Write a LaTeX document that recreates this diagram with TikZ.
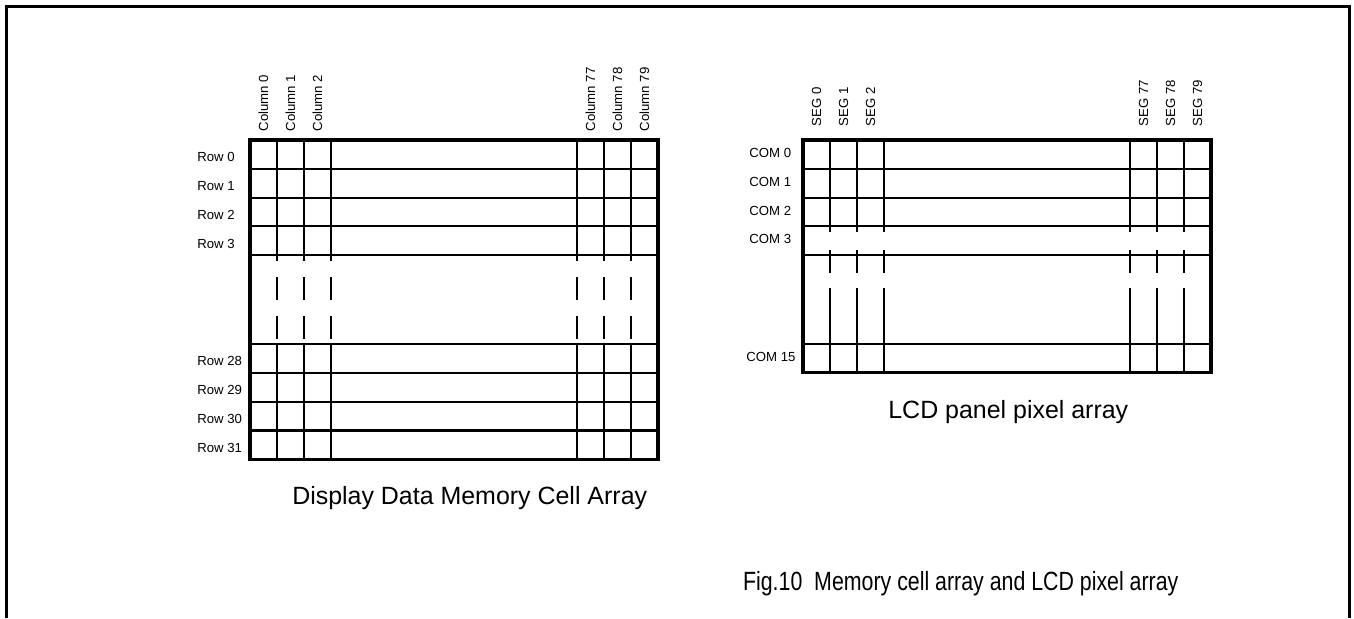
\documentclass[tikz,border=0pt]{standalone}
\usepackage{graphicx}
\usepackage{fontspec}
\setmainfont{Liberation Sans}
\tikzset{
  gridout/.style={line width=1.8pt},
  gridin/.style={line width=1.25pt},
  lbl/.style={inner sep=0pt, font=\fontsize{7.5}{9}\selectfont},
  ttl/.style={inner sep=0pt, font=\fontsize{14.2}{17}\selectfont}
}
\begin{document}
\begin{tikzpicture}[x=0.02cm,y=-0.02cm]
    \useasboundingbox (0,0) rectangle (1354,618);
    % frame, open at the bottom
    \draw [line width=1.2pt] (6.5,618) -- (6.5,6.5) -- (1349.5,6.5) -- (1349.5,618);

    % display data memory
    \foreach \y in {168.8,197.6,226.4,255.2,344,372.8,401.6,430.4}
        \draw [gridin] (250,\y) -- (658,\y);
    \foreach \x in {277,304,331,577,604,631} {
        \draw [gridin] (\x,140) -- (\x,255.2);
        \draw [gridin] (\x,344) -- (\x,459.2);
        % broken part
        \draw [gridin] (\x,255.2) -- (\x,260.7) (\x,277) -- (\x,299.5) (\x,316) -- (\x,338.5);
    }
    \draw [gridout] (250,140) rectangle (658,459.2);

    % LCD panel
    \foreach \y in {168.8,197.6,226.4,255.2,344}
        \draw [gridin] (803,\y) -- (1211,\y);
    \foreach \x in {830,857,884,1130,1157,1184} {
        \draw [gridin] (\x,140) -- (\x,231.7);
        \draw [gridin] (\x,250) -- (\x,273.3);
        \draw [gridin] (\x,287.7) -- (\x,372.8);
    }
    \draw [gridout] (803,140) rectangle (1211,372.8);

    % column and row labels
    \foreach \x/\n in {263.5/0,290.5/1,317.5/2,590.5/77,617.5/78,644.5/79}
        \node [lbl, rotate=90, anchor=west] (col\n) at (\x,131.7) {Column \n};
    \foreach \y/\n in {154.4/0,183.2/1,212/2,240.8/3,358.4/28,387.2/29,416/30,444.8/31}
        \node [lbl, anchor=west] (row\n) at (197,\y+3) {Row \n};

    % SEG and COM labels
    \foreach \x/\n in {816.5/0,843.5/1,870.5/2,1143.5/77,1170.5/78,1197.5/79}
        \node [lbl, rotate=90, anchor=west] (seg\n) at (\x,126.7) {SEG \n};
    \foreach \y/\n in {154.4/0,183.2/1,212/2,240.8/3}
        \node [lbl, anchor=west] (com\n) at (749,\y-1.5) {COM \n};
    \node [lbl, anchor=west] (com15) at (746,356.9) {COM 15};

    % captions
    \node [ttl, anchor=base] (memcap) at (469.7,504.3) {Display Data Memory Cell Array};
    \node [ttl, anchor=base] (lcdcap) at (1008.3,418.3) {LCD panel pixel array};
    \node [ttl, anchor=base west, font=\fontsize{15}{18}\selectfont] (figcap) at (742.7,590.7)
        {\scalebox{0.81}[1]{Fig.10\ \ Memory cell array and LCD pixel array}};
\end{tikzpicture}
\end{document}
